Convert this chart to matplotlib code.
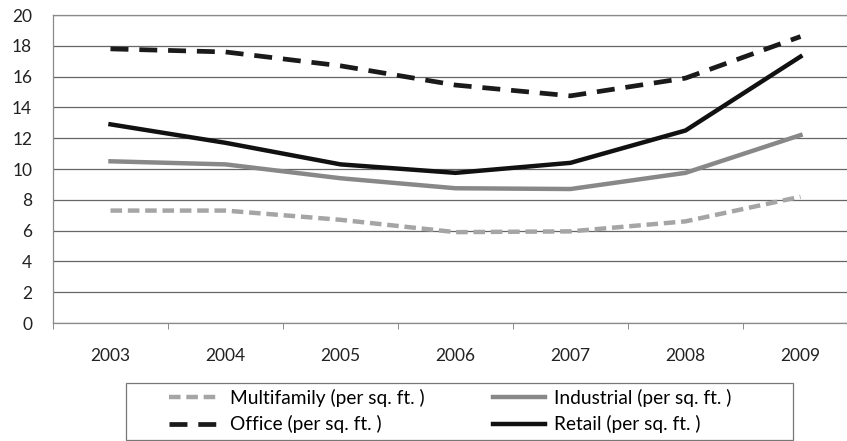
import numpy as np
import matplotlib.pyplot as plt
from matplotlib.patches import Rectangle

years = ['2003', '2004', '2005', '2006', '2007', '2008', '2009']
multifamily = [7.3, 7.3, 6.7, 5.9, 5.95, 6.6, 8.2]
industrial = [10.5, 10.3, 9.4, 8.75, 8.7, 9.75, 12.2]
office = [17.8, 17.6, 16.7, 15.45, 14.75, 15.9, 18.6]
retail = [12.9, 11.7, 10.3, 9.75, 10.4, 12.5, 17.3]

plt.rcParams['font.family'] = ['Lato', 'DejaVu Sans']

fig = plt.figure(figsize=(8.47, 4.41), dpi=100)
# plot area: left 53px, right beyond the image edge, y from 15 to 323 px
ax = fig.add_axes([53/847, 118/441, 805/847, 308/441])

x = np.arange(len(years))
l_m, = ax.plot(x, multifamily, color='#a5a5a5', lw=3.2, ls=(0, (2.6, 1.3)),
               label='Multifamily (per sq. ft. )')
l_i, = ax.plot(x, industrial, color='#888888', lw=3.2, label='Industrial (per sq. ft. )')
l_o, = ax.plot(x, office, color='#1a1a1a', lw=3.4, ls=(0, (3.8, 2.3)),
               label='Office (per sq. ft. )')
l_r, = ax.plot(x, retail, color='#111111', lw=3.2, label='Retail (per sq. ft. )')

ax.set_xlim(-0.5, len(years) - 0.5)
ax.set_ylim(0, 20)
ax.set_yticks(range(0, 21, 2))
ax.set_xticks(x)
ax.set_xticklabels(years)
ax.set_xticks(np.arange(-0.5, len(years) - 0.4, 1), minor=True)
ax.tick_params(axis='x', which='major', length=0, pad=18, labelsize=12.5, colors='#222')
ax.tick_params(axis='x', which='minor', length=4, direction='out', color='#777')
ax.tick_params(axis='y', length=0, pad=15, labelsize=12.5, colors='#222')
ax.grid(axis='y', color='#666666', lw=0.9)
ax.set_axisbelow(True)
for s in ax.spines.values():
    s.set_color('#8a8a8a')
    s.set_linewidth(0.9)

# legend box drawn by hand, entries placed inside it
fig.patches.append(Rectangle((126/847, 1/441), (793-126)/847, (440-383)/441,
                             transform=fig.transFigure, fill=False,
                             edgecolor='#777', lw=0.9))
leg = fig.legend([l_m, l_o, l_i, l_r],
                 [l_m.get_label(), l_o.get_label(), l_i.get_label(), l_r.get_label()],
                 ncol=2, loc='center',
                 bbox_to_anchor=((162+738)/2/847, 30/441),
                 fontsize=13.8, handlelength=2.7, handletextpad=0.45,
                 labelspacing=0.45, columnspacing=3.6, borderpad=0,
                 frameon=False)

fig.savefig('out.png', dpi=100)
